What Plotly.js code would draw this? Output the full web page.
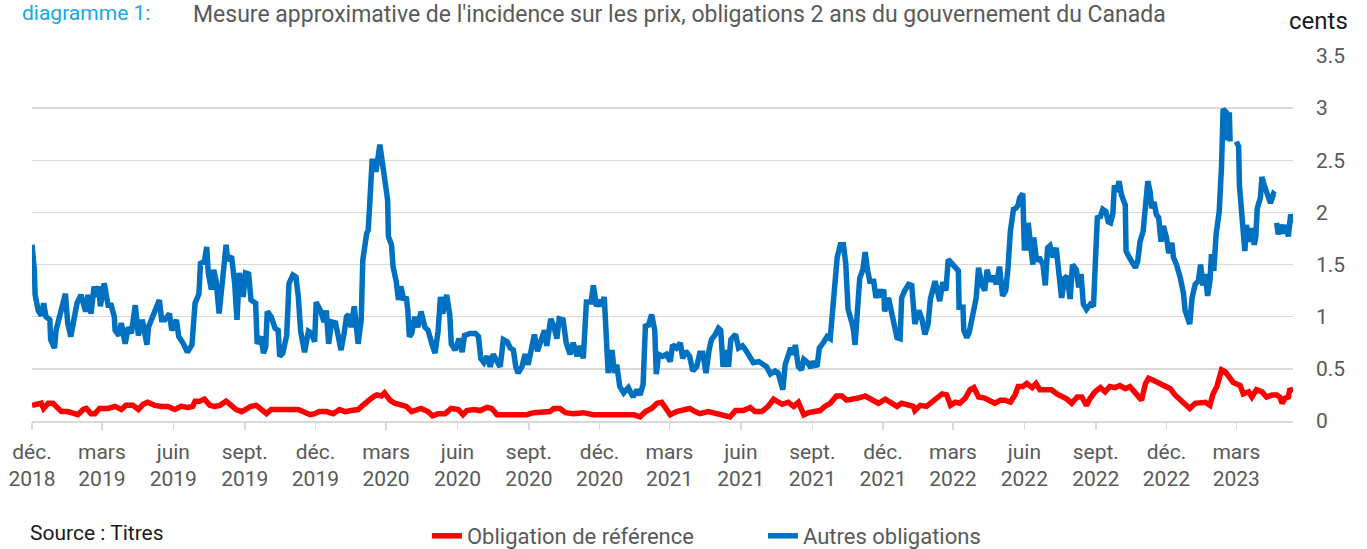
<!DOCTYPE html>
<html>
<head>
<meta charset="utf-8">
<script src="https://cdn.plot.ly/plotly-3.0.1.min.js"></script>
<style>
  html, body { margin: 0; padding: 0; background: #fff; }
  #chart { width: 1367px; height: 549px; }
</style>
</head>
<body>
<div id="chart"></div>
<script>
// Observation dates are given as days since 1 Dec 2018, paired with the value in cents.
const startDate = '2018-12-01';

// "Autres obligations" (blue); null marks a gap in the data
const autresObligations = [
[0,1.69],[3,1.45],[4,1.21],[8,1.06],[12,1.01],[15,1.13],[18,1.0],[23,0.97],[24,0.78],[29,0.70],[31,0.87],[36,1.03],[40,1.13],[43,1.22],[46,0.94],[50,0.81],[54,0.97],[58,1.13],[63,1.21],[66,1.10],[69,1.05],[72,1.21],[76,1.03],[80,1.29],[83,1.19],[86,1.29],[88,1.10],[93,1.32],[98,1.11],[102,1.11],[106,1.0],[107,0.87],[112,0.82],[115,0.94],[120,0.74],[124,0.90],[128,0.84],[133,1.11],[137,0.82],[142,0.97],[148,0.73],[150,0.90],[157,1.03],[164,1.16],[167,0.97],[171,0.97],[177,1.03],[180,0.87],[186,0.97],[189,0.81],[195,0.74],[200,0.66],[206,0.73],[210,1.13],[215,1.22],[217,1.51],[222,1.53],[225,1.67],[227,1.42],[231,1.26],[234,1.45],[237,1.35],[241,1.03],[244,1.26],[246,1.51],[250,1.69],[252,1.54],[257,1.58],[261,1.32],[264,0.97],[267,1.42],[272,1.19],[275,1.42],[279,1.41],[282,1.16],[288,1.13],[290,0.74],[295,0.81],[298,0.65],[301,0.71],[303,1.05],[308,1.0],[313,0.89],[317,0.87],[319,0.62],[323,0.65],[328,0.82],[331,1.32],[336,1.40],[340,1.38],[343,1.19],[346,0.86],[351,0.66],[356,0.86],[360,0.84],[364,0.76],[366,1.14],[372,1.05],[376,0.95],[379,1.06],[382,0.74],[386,0.95],[391,0.94],[394,0.81],[398,0.68],[402,0.84],[405,1.0],[408,1.02],[411,0.90],[415,1.10],[420,0.74],[424,0.97],[426,1.54],[431,1.80],[433,1.83],[435,2.09],[438,2.49],[441,2.49],[443,2.39],[448,2.65],[450,2.53],[453,2.34],[458,2.12],[459,1.77],[463,1.69],[465,1.48],[469,1.34],[472,1.16],[475,1.29],[479,1.16],[482,1.19],[484,1.06],[486,0.81],[489,0.84],[493,1.0],[497,0.90],[501,1.05],[506,0.90],[510,0.87],[515,0.74],[519,0.65],[523,0.86],[526,1.19],[529,1.03],[534,1.21],[538,1.02],[540,0.74],[545,0.68],[550,0.79],[554,0.66],[557,0.82],
[564,0.84],[571,0.84],[575,0.81],[578,0.60],[582,0.56],[586,0.62],[590,0.52],[594,0.64],[599,0.57],[603,0.52],[607,0.78],[612,0.76],[616,0.70],[620,0.68],[623,0.52],[626,0.46],[631,0.52],[635,0.64],[639,0.54],[642,0.65],[647,0.83],[651,0.67],[655,0.78],[660,0.87],[663,0.72],[668,0.98],[672,0.91],[676,0.79],[679,0.98],[684,0.97],[688,0.75],[693,0.64],[697,0.75],[702,0.62],[706,0.72],[710,0.60],[714,1.14],[720,1.14],[723,1.30],[727,1.10],[731,1.16],[734,1.10],[737,1.19],[739,0.75],[742,0.46],[747,0.68],[750,0.46],[753,0.54],[757,0.33],[762,0.27],[768,0.32],[774,0.23],[779,0.30],[783,0.25],[787,0.35],[790,0.91],[794,0.92],[798,1.02],[802,0.87],[804,0.45],[807,0.64],[812,0.62],[817,0.64],[822,0.57],[825,0.73],[830,0.70],[835,0.75],[838,0.60],[842,0.67],[847,0.62],[851,0.48],[856,0.52],[860,0.65],[864,0.65],[868,0.46],[872,0.68],[875,0.78],[880,0.83],[884,0.89],[887,0.87],[890,0.52],[894,0.68],[897,0.52],[900,0.78],[906,0.83],[910,0.70],[915,0.72],[920,0.67],[925,0.62],[929,0.56],[936,0.57],[942,0.54],[946,0.52],[951,0.45],[957,0.48],[961,0.46],[964,0.37],[967,0.30],[970,0.54],[974,0.65],[977,0.70],[981,0.64],[983,0.73],[987,0.52],[991,0.49],[994,0.59],[999,0.56],[1003,0.51],[1006,0.57],[1011,0.52],[1014,0.70],[1019,0.75],[1024,0.81],[1028,0.79],[1031,1.05],[1034,1.32],[1037,1.57],[1041,1.69],[1045,1.69],[1048,1.51],[1051,1.07],[1056,0.94],[1058,0.87],[1060,0.73],[1063,1.07],[1066,1.37],[1070,1.45],[1073,1.62],[1076,1.45],[1079,1.34],[1084,1.34],[1087,1.18],[1090,1.26],[1093,1.19],[1097,1.26],[1098,1.05],[1103,1.18],
[1107,1.06],[1110,0.93],[1114,0.80],[1118,0.79],[1120,1.18],[1124,1.25],[1129,1.31],[1133,1.30],[1137,0.93],[1142,1.06],[1146,0.98],[1150,0.83],[1154,0.93],[1157,1.17],[1160,1.25],[1163,1.34],[1166,1.25],[1169,1.15],[1173,1.33],[1177,1.25],[1180,1.55],[1184,1.52],[1189,1.47],[1193,1.44],[1194,1.09],[1199,1.09],[1200,0.87],[1204,0.80],[1207,0.85],[1212,1.06],[1216,1.18],[1219,1.47],[1223,1.31],[1227,1.25],[1230,1.45],[1234,1.34],[1238,1.39],[1242,1.31],[1246,1.48],[1250,1.20],[1254,1.25],[1257,1.47],[1260,1.82],[1264,2.03],[1267,2.04],[1270,2.07],[1272,2.14],[1276,2.18],[1278,1.66],[1281,1.66],[1283,1.90],[1286,1.69],[1289,1.50],[1290,1.76],[1294,1.53],[1297,1.57],[1302,1.50],[1305,1.30],[1308,1.66],[1311,1.68],[1315,1.57],[1319,1.66],[1322,1.47],[1326,1.18],[1330,1.37],[1333,1.39],[1337,1.17],[1340,1.50],[1345,1.45],[1348,1.28],[1351,1.41],[1354,1.12],[1358,1.07],[1363,1.12],[1367,1.10],[1369,1.41],[1372,1.95],[1376,1.96],[1379,2.03],[1383,2.01],[1386,1.91],[1389,1.90],[1392,1.99],[1394,2.26],[1397,2.20],[1400,2.30],[1403,2.17],[1408,2.07],[1409,1.63],[1413,1.57],[1418,1.50],[1421,1.47],[1424,1.53],[1427,1.72],[1431,1.82],[1435,2.10],[1437,2.30],[1440,2.20],[1442,2.04],[1445,2.10],[1448,1.98],[1451,1.95],[1454,1.72],[1457,1.87],[1461,1.76],[1464,1.61],[1468,1.71],[1470,1.57],[1474,1.50],[1479,1.37],[1483,1.22],[1485,1.06],[1489,0.96],[1491,0.93],[1494,1.18],[1498,1.31],[1502,1.34],[1505,1.50],[1508,1.30],[1511,1.41],[1514,1.20],[1517,1.34],[1519,1.60],[1522,1.44],[1525,1.79],[1529,2.01],[1532,2.45],[1534,2.99],[1538,2.96],[1540,2.69],[1542,2.96],[1543,2.68],[1547,null],[1551,2.68],[1554,2.63],[1555,2.26],[1558,2.01],[1560,1.76],[1562,1.63],[1564,1.88],[1568,1.72],[1571,1.85],[1574,1.69],[1576,1.76],[1578,2.04],[1582,2.14],[1584,2.34],[1587,2.26],[1590,2.20],[1592,2.14],[1595,2.09],[1599,2.18],[1601,2.17],[1602,null],[1603,1.90],[1605,1.79],[1608,1.88],[1612,1.80],[1615,1.88],[1618,1.77],[1621,1.98],[1624,1.90]
];

// "Obligation de référence" (red)
const obligationReference = [
[0,0.15],[6,0.16],[12,0.17],[15,0.12],[21,0.17],[27,0.17],[33,0.12],[38,0.09],[46,0.09],[55,0.07],[59,0.06],[66,0.11],[70,0.12],[76,0.07],[81,0.07],[87,0.12],[98,0.12],[107,0.14],[115,0.11],[121,0.15],[130,0.15],[137,0.11],[143,0.16],[149,0.18],[158,0.15],[167,0.14],[175,0.14],[184,0.11],[192,0.14],[201,0.13],[207,0.14],[210,0.19],[216,0.19],[222,0.21],[229,0.15],[235,0.14],[242,0.15],[250,0.19],[257,0.15],[263,0.11],[270,0.09],[276,0.12],[282,0.14],[289,0.15],[295,0.11],[302,0.07],[308,0.11],[317,0.11],[325,0.11],[334,0.12],[343,0.11],[349,0.09],[358,0.06],[364,0.07],[370,0.09],[379,0.09],[388,0.07],[396,0.11],[403,0.09],[411,0.10],[420,0.11],[426,0.15],[433,0.20],[439,0.23],[444,0.25],[450,0.24],[454,0.27],[461,0.20],[467,0.17],[476,0.15],[482,0.14],[489,0.09],[495,0.11],[501,0.12],[510,0.09],[516,0.05],[523,0.07],[532,0.07],[540,0.12],[549,0.11],[555,0.06],[560,0.10],[569,0.11],[577,0.10],[586,0.13],[592,0.12],[599,0.06],[607,0.06],[620,0.06],[629,0.05],[637,0.06],[646,0.08],[659,0.08],[667,0.09],[672,0.12],[680,0.12],[687,0.08],[697,0.07],[710,0.08],[723,0.06],[736,0.06],[749,0.06],[762,0.06],[775,0.06],[783,0.04],[790,0.09],[798,0.12],[805,0.17],[811,0.18],[815,0.14],[822,0.06],[830,0.09],[839,0.10],[847,0.12],[854,0.09],[860,0.07],[871,0.09],[878,0.08],[886,0.07],[895,0.05],[899,0.04],[906,0.10],[916,0.10],[925,0.13],[931,0.09],[940,0.09],[948,0.14],[955,0.21],[961,0.19],[966,0.16],[974,0.18],[981,0.14],[987,0.18],[994,0.06],[1000,0.08],[1006,0.09],[1015,0.10],[1021,0.14],[1028,0.17],[1036,0.24],[1043,0.24],[1049,0.20],[1058,0.21],[1064,0.22],[1073,0.24],[1082,0.21],[1090,0.17],[1099,0.21],[1107,0.18],[1114,0.14],[1120,0.17],[1127,0.15],[1135,0.14],[1137,0.10],[1144,0.15],[1152,0.14],[1159,0.18],[1165,0.23],[1172,0.26],[1178,0.25],[1183,0.15],[1189,0.18],[1195,0.17],[1202,0.22],[1208,0.30],[1213,0.32],[1219,0.23],[1227,0.22],[1234,0.20],[1240,0.17],[1247,0.20],[1253,0.20],[1260,0.18],[1266,0.25],[1270,0.33],[1276,0.33],[1281,0.36],[1288,0.32],[1293,0.36],[1298,0.30],[1307,0.30],[1313,0.30],[1320,0.26],[1326,0.24],[1333,0.21],[1339,0.17],[1346,0.23],[1352,0.23],[1358,0.15],[1363,0.22],[1369,0.28],[1376,0.32],[1382,0.28],[1388,0.33],[1395,0.32],[1401,0.34],[1408,0.31],[1414,0.33],[1421,0.26],[1429,0.20],[1434,0.36],[1438,0.41],[1444,0.39],[1451,0.36],[1457,0.34],[1466,0.31],[1472,0.25],[1479,0.20],[1485,0.15],[1491,0.12],[1498,0.17],[1504,0.18],[1511,0.18],[1517,0.15],[1521,0.26],[1526,0.33],[1529,0.42],[1532,0.49],[1537,0.47],[1541,0.42],[1547,0.37],[1556,0.34],[1560,0.26],[1567,0.28],[1571,0.23],[1577,0.30],[1584,0.28],[1590,0.23],[1597,0.25],[1603,0.25],[1607,0.23],[1610,0.17],[1614,0.22],[1618,0.23],[1620,0.31],[1624,0.28]
];

const tickDates = ['2018-12-01','2019-03-01','2019-06-01','2019-09-01','2019-12-01','2020-03-01','2020-06-01','2020-09-01','2020-12-01','2021-03-01','2021-06-01','2021-09-01','2021-12-01','2022-03-01','2022-06-01','2022-09-01','2022-12-01','2023-03-01'];
const tickLabels = ['déc.<br>2018','mars<br>2019','juin<br>2019','sept.<br>2019','déc.<br>2019','mars<br>2020','juin<br>2020','sept.<br>2020','déc.<br>2020','mars<br>2021','juin<br>2021','sept.<br>2021','déc.<br>2021','mars<br>2022','juin<br>2022','sept.<br>2022','déc.<br>2022','mars<br>2023'];

const seriesNames = ['Obligation de référence', 'Autres obligations'];
const titleText = "Mesure approximative de l'incidence sur les prix, obligations 2 ans du gouvernement du Canada";

const startMs = Date.parse(startDate + 'T00:00:00Z');
const toDate = d => new Date(startMs + d * 86400000).toISOString().slice(0, 10);

const FONT = 'Roboto, "Liberation Sans", sans-serif';
const GRAY = '#595959';

const redTrace = {
  x: obligationReference.map(p => toDate(p[0])),
  y: obligationReference.map(p => p[1]),
  name: seriesNames[0], type: 'scatter', mode: 'lines',
  line: { color: '#FF0000', width: 5.5 }, connectgaps: false
};
const blueTrace = {
  x: autresObligations.map(p => toDate(p[0])),
  y: autresObligations.map(p => p[1]),
  name: seriesNames[1], type: 'scatter', mode: 'lines',
  line: { color: '#0070C0', width: 5.5 }, connectgaps: false
};

const lastDay = autresObligations[autresObligations.length - 1][0];

const layout = {
  width: 1367, height: 549,
  margin: { l: 32, r: 74, t: 56, b: 128, pad: 0, autoexpand: false },
  paper_bgcolor: '#ffffff', plot_bgcolor: '#ffffff',
  font: { family: FONT, size: 21, color: GRAY },
  showlegend: true,
  title: {
    text: titleText,
    font: { family: FONT, size: 23, color: GRAY },
    x: 0.497, xanchor: 'center', xref: 'container',
    y: 0.974, yanchor: 'middle', yref: 'container'
  },
  xaxis: {
    type: 'date',
    range: [toDate(0), toDate(lastDay)],
    tickmode: 'array', tickvals: tickDates, ticktext: tickLabels,
    ticks: 'outside', ticklen: 7, tickwidth: 1.5, tickcolor: '#d9d9d9',
    ticklabelstandoff: 4,
    showline: true, linecolor: '#d9d9d9', linewidth: 1.5,
    showgrid: false, zeroline: false, automargin: false,
    tickfont: { family: FONT, size: 21, color: GRAY },
    fixedrange: true
  },
  yaxis: {
    side: 'right',
    range: [0, 3.5], tickmode: 'linear', tick0: 0, dtick: 0.5,
    showgrid: true, gridcolor: '#d9d9d9', gridwidth: 1.5,
    zeroline: false, showline: false, ticks: '', automargin: false,
    ticklabelstandoff: 22,
    tickfont: { family: FONT, size: 21, color: GRAY },
    fixedrange: true
  },
  legend: {
    orientation: 'h', xref: 'paper', x: 0.3132, xanchor: 'left',
    yref: 'container', y: 0.0237, yanchor: 'middle',
    entrywidth: 291, entrywidthmode: 'pixels',
    font: { family: FONT, size: 22, color: GRAY },
    bgcolor: 'rgba(0,0,0,0)', traceorder: 'normal'
  },
  annotations: [
    { text: 'cents', xref: 'paper', yref: 'paper', x: 0.9952, y: 1.096,
      xanchor: 'left', yanchor: 'middle', showarrow: false,
      font: { family: FONT, size: 24, color: '#1a1a1a' } },
    { text: 'diagramme 1:', xref: 'paper', yref: 'paper', x: -0.0095, y: 1.118,
      xanchor: 'left', yanchor: 'middle', showarrow: false,
      font: { family: FONT, size: 21, color: '#14a9e6' } },
    { text: 'Source : Titres', xref: 'paper', yref: 'paper', x: -0.003, y: -0.306,
      xanchor: 'left', yanchor: 'middle', showarrow: false,
      font: { family: FONT, size: 21, color: '#1a1a1a' } }
  ]
};

Plotly.newPlot('chart', [redTrace, blueTrace], layout, { displayModeBar: false, staticPlot: true });
</script>
</body>
</html>
